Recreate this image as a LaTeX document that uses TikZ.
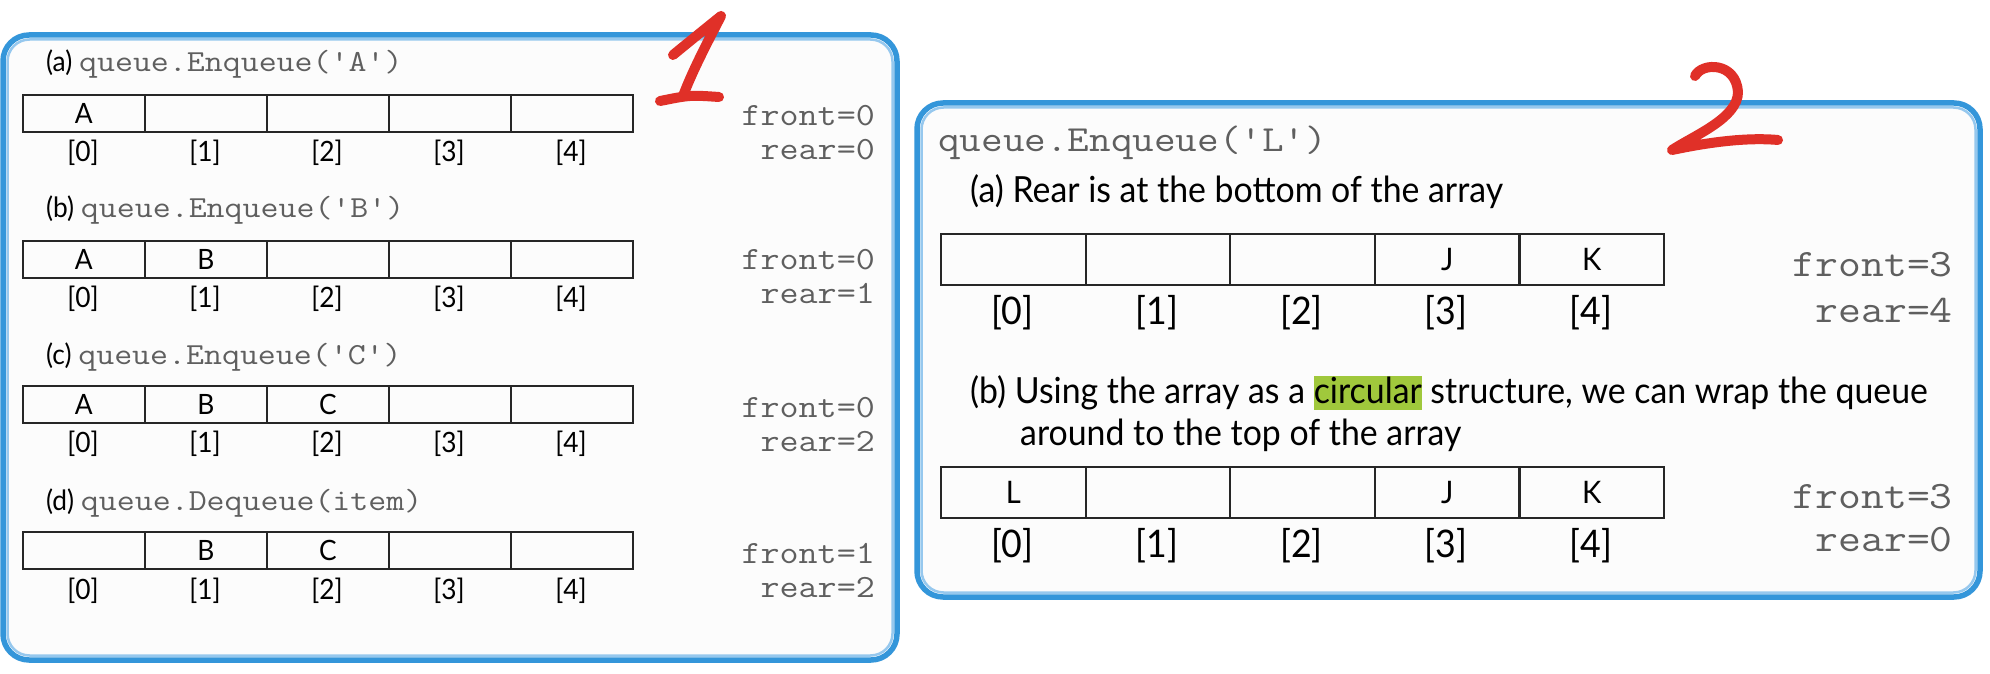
\documentclass[tikz,border=0pt]{standalone}
\usepackage{fontspec}
\setmonofont[FakeStretch=1.14]{Latin Modern Mono}
\newfontfamily\cond[FakeStretch=0.94]{Lato}
\definecolor{bblue}{RGB}{52,150,218}
\definecolor{bbluelt}{RGB}{150,200,238}
\definecolor{monogray}{RGB}{95,95,95}
\definecolor{redmark}{RGB}{224,48,40}
\definecolor{hlgreen}{RGB}{160,200,60}
\definecolor{panelfill}{RGB}{252,252,252}
\newcommand\hlword[1]{{\setlength\fboxsep{0pt}\colorbox{hlgreen}{\rule[-7pt]{0pt}{34pt}#1}}}
\tikzset{
  panel/.style={draw=bblue, line width=5.5pt, rounded corners=26pt, fill=panelfill},
  panelin/.style={draw=bbluelt, line width=2.5pt, rounded corners=22pt},
  cellA/.style={draw=black!85, line width=1.6pt, minimum width=122pt, minimum height=37pt,
    inner sep=0pt, anchor=north west, font=\cond\fontsize{28}{28}\selectfont},
  cellB/.style={draw=black!85, line width=2.2pt, minimum width=144.6pt, minimum height=51pt,
    inner sep=0pt, anchor=north west, font=\cond\fontsize{31}{31}\selectfont},
  idxA/.style={inner sep=0pt, font=\cond\fontsize{28}{28}\selectfont},
  idxB/.style={inner sep=0pt, font=\cond\fontsize{38}{38}\selectfont},
  monoA/.style={inner sep=0pt, anchor=east, text=monogray, font=\ttfamily\fontsize{32.4}{32}\selectfont},
  monoB/.style={inner sep=0pt, anchor=east, text=monogray, font=\ttfamily\fontsize{38.9}{39}\selectfont},
  labA/.style={inner sep=0pt, anchor=base west, font=\cond\fontsize{28}{28}\selectfont},
  labB/.style={inner sep=0pt, anchor=base west, font=\cond\fontsize{36}{36}\selectfont},
  redstroke/.style={draw=redmark, line width=10pt, line cap=round, line join=round}
}
\newcommand\mcodeA[1]{{\ttfamily\fontsize{30.6}{30}\selectfont\color{monogray}#1}}
\begin{document}
\begin{tikzpicture}[x=1pt,y=-1pt]
\useasboundingbox (0,0) rectangle (1990,674);
\fill[white] (0,0) rectangle (1990,674);
% panels
\draw[panel] (3,35) rectangle (897,660);
\draw[panelin] (7.5,39.5) rectangle (892.5,655.5);
\draw[panel] (917,103) rectangle (1980,597);
\draw[panelin] (921.5,107.5) rectangle (1975.5,592.5);

% ---------- panel 1 ----------
\node[labA] (la) at (46,72) {(a) \mcodeA{queue.Enqueue('A')}};
\foreach \v [count=\i from 0] in {A,{},{},{},{}}
  \node[cellA] (ra\i) at (22+122*\i,94) {\v};
\foreach \i in {0,...,4}
  \node[idxA] (ia\i) at (83+122*\i,153) {[\i]};
\node[monoA] (fa) at (875,116) {front=0};
\node[monoA] (rra) at (875,150) {rear=0};

\node[labA] (lb) at (46,217) {(b) \mcodeA{queue.Enqueue('B')}};
\foreach \v [count=\i from 0] in {A,B,{},{},{}}
  \node[cellA] (rb\i) at (22+122*\i,240) {\v};
\foreach \i in {0,...,4}
  \node[idxA] (ib\i) at (83+122*\i,299) {[\i]};
\node[monoA] (fb) at (875,260) {front=0};
\node[monoA] (rrb) at (875,294) {rear=1};

\node[labA] (lc) at (46,364) {(c) \mcodeA{queue.Enqueue('C')}};
\foreach \v [count=\i from 0] in {A,B,C,{},{}}
  \node[cellA] (rc\i) at (22+122*\i,385) {\v};
\foreach \i in {0,...,4}
  \node[idxA] (ic\i) at (83+122*\i,444) {[\i]};
\node[monoA] (fc) at (875,408) {front=0};
\node[monoA] (rrc) at (875,442) {rear=2};

\node[labA] (ld) at (46,510) {(d) \mcodeA{queue.Dequeue(item)}};
\foreach \v [count=\i from 0] in {{},B,C,{},{}}
  \node[cellA] (rd\i) at (22+122*\i,531) {\v};
\foreach \i in {0,...,4}
  \node[idxA] (id\i) at (83+122*\i,591) {[\i]};
\node[monoA] (fd) at (875,554) {front=1};
\node[monoA] (rrd) at (875,588) {rear=2};

% ---------- panel 2 ----------
\node[inner sep=0pt, anchor=base west, text=monogray, font=\ttfamily\fontsize{36.8}{36}\selectfont] (lL) at (938,152) {queue.Enqueue('L')};
\node[labB] (l2a) at (970,203) {(a) Rear is at the bottom of the array};
\foreach \v [count=\i from 0] in {{},{},{},J,K}
  \node[cellB] (sa\i) at (940+144.6*\i,233) {\v};
\foreach \i in {0,...,4}
  \node[idxB] (ja\i) at (1012.3+144.6*\i,313) {[\i]};
\node[monoB] (f2a) at (1953,265) {front=3};
\node[monoB] (r2a) at (1953,310) {rear=4};

\node[labB] (l2b) at (970,403) {(b) Using the array as a \hlword{circular} structure, we can wrap the queue};
\node[labB] (l2b2) at (1020,445) {around to the top of the array};
\foreach \v [count=\i from 0] in {L,{},{},J,K}
  \node[cellB] (sb\i) at (940+144.6*\i,466) {\v};
\foreach \i in {0,...,4}
  \node[idxB] (jb\i) at (1012.3+144.6*\i,546) {[\i]};
\node[monoB] (f2b) at (1953,497) {front=3};
\node[monoB] (r2b) at (1953,540) {rear=0};

% ---------- red marks ----------
\draw[redstroke] (673,55) .. controls (695,37) .. (721,16) .. controls (706,45) and (692,72) .. (683,96);
\draw[redstroke] (660,101) .. controls (690,95) .. (719,97);
\draw[redstroke] (1695,76) .. controls (1702,62) and (1736,62) .. (1738,92)
  .. controls (1738,118) and (1695,135) .. (1672,150)
  .. controls (1705,143) and (1745,137) .. (1778,140);
\end{tikzpicture}
\end{document}
